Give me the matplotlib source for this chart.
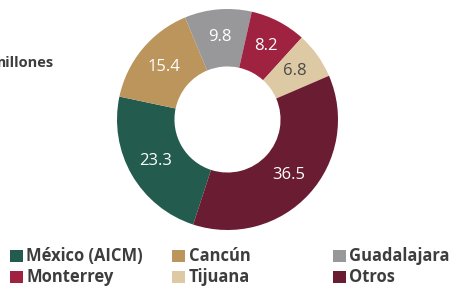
import matplotlib
matplotlib.use("Agg")
import matplotlib.pyplot as plt
from matplotlib.patches import Rectangle

plt.rcParams["font.family"] = ["Open Sans", "DejaVu Sans"]

# ── data ──────────────────────────────────────────────────────────────────────
airports = ["México (AICM)", "Cancún", "Guadalajara", "Monterrey", "Tijuana", "Otros"]
values   = [23.3, 15.4, 9.8, 8.2, 6.8, 36.5]
colors   = ["#235B4E", "#BC955C", "#98989A", "#9F2241", "#DDC9A3", "#691C32"]
label_colors = ["white", "white", "white", "white", "#4a4a4a", "white"]

W, H = 451, 286
fig = plt.figure(figsize=(W / 100, H / 100), dpi=100)

# ── donut ─────────────────────────────────────────────────────────────────────
cx, cy, r = 227.5, 119.5, 110.5
ax = fig.add_axes([(cx - r) / W, (H - cy - r) / H, 2 * r / W, 2 * r / H])
wedges, texts = ax.pie(values, colors=colors, startangle=-108.1, counterclock=False,
                       radius=1.0, labels=[f"{v:.1f}" for v in values],
                       labeldistance=0.75, wedgeprops=dict(width=0.52, linewidth=0))
for t, c in zip(texts, label_colors):
    t.set_color(c)
    t.set_fontsize(12)
    t.set_ha("center")
    t.set_va("center")
ax.set_xlim(-1, 1)
ax.set_ylim(-1, 1)
ax.axis("off")

# unit title, partly cut at the left edge as in the source
fig.text(54 / W, 1 - 63 / H, "millones", ha="right", va="center",
         fontsize=10.5, fontweight="bold", color="#3d3d3d")

# ── legend (3 columns x 2 rows) ──────────────────────────────────────────────
col_x = [10, 172, 333]
row_y = [256, 277]
sq = 12.5
for i, (name, col) in enumerate(zip(airports, colors)):
    x = col_x[i % 3]
    y = row_y[i // 3]
    fig.patches.append(Rectangle((x / W, (H - y - sq / 2) / H), sq / W, sq / H,
                                 transform=fig.transFigure, color=col, lw=0))
    fig.text((x + sq + 4) / W, 1 - y / H, name, ha="left", va="center",
             fontsize=11.9, fontweight="bold", color="#3d3d3d")

fig.savefig("out.png", dpi=100)
plt.close()
